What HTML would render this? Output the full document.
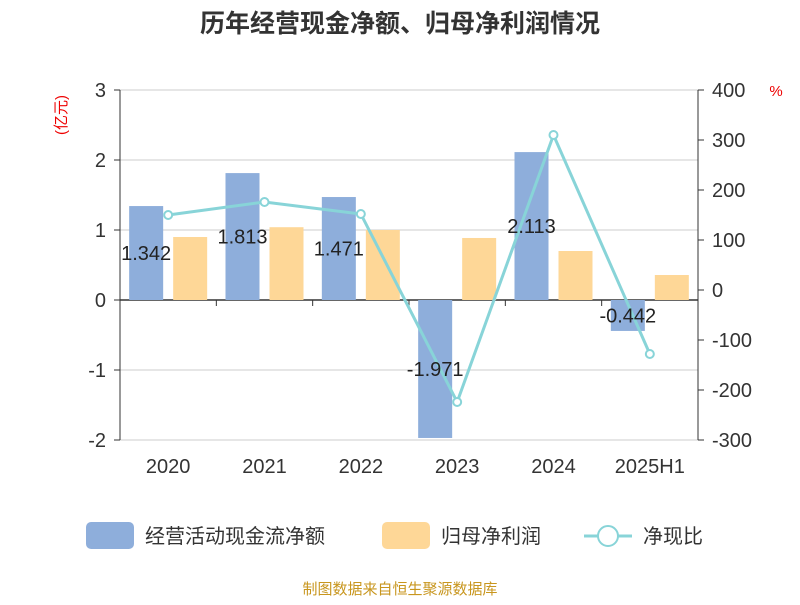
<!DOCTYPE html>
<html><head><meta charset="utf-8"><style>
body{margin:0;background:#fff;}
svg text{font-family:"Liberation Sans","Noto Sans CJK SC",sans-serif;}
</style></head><body>
<svg id="c" width="800" height="600" xmlns="http://www.w3.org/2000/svg">
<text x="400" y="32" text-anchor="middle" font-size="25" font-weight="bold" fill="#333">历年经营现金净额、归母净利润情况</text>
<text x="0" y="0" transform="translate(66,115) rotate(-90)" text-anchor="middle" font-size="15" fill="#e00">(亿元)</text>
<text x="776" y="96" text-anchor="middle" font-size="15" fill="#e00">%</text>
<g id="grid"></g><g id="bars"></g><g id="axes"></g><g id="line"></g><g id="labels"></g>
<g>
<rect x="86" y="522" width="48" height="27" rx="5" fill="#8eaedb"/>
<text x="145" y="543" font-size="20" fill="#333">经营活动现金流净额</text>
<rect x="382" y="522" width="48" height="27" rx="5" fill="#fed797"/>
<text x="441" y="543" font-size="20" fill="#333">归母净利润</text>
<line x1="584" y1="536" x2="632" y2="536" stroke="#88d4d8" stroke-width="3"/>
<circle cx="608" cy="536" r="10" fill="#fff" stroke="#88d4d8" stroke-width="2"/>
<text x="643" y="543" font-size="20" fill="#333">净现比</text>
</g>
<text x="400" y="594" text-anchor="middle" font-size="15" fill="#c8961e">制图数据来自恒生聚源数据库</text>
</svg>
<script>
const categories=["2020","2021","2022","2023","2024","2025H1"];
const cashFlow=[1.342,1.813,1.471,-1.971,2.113,-0.442];
const netProfit=[0.90,1.04,1.00,0.886,0.70,0.357];
const ratio=[150,176,152,-224,310,-128];
const leftTicks=[3,2,1,0,-1,-2];
const rightTicks=[400,300,200,100,0,-100,-200,-300];
const NS="http://www.w3.org/2000/svg";
const X0=120,X1=698,T=90,B=440;
const yL=v=>T+(3-v)*(B-T)/5;
const yR=v=>T+(400-v)*(B-T)/700;
const bw=(X1-X0)/categories.length;
const xc=i=>X0+bw*(i+0.5);
function mk(parent,tag,attrs){const e=document.createElementNS(NS,tag);for(const k in attrs)e.setAttribute(k,attrs[k]);document.getElementById(parent).appendChild(e);return e;}
leftTicks.forEach(t=>{
 const g=mk('grid','line',{x1:X0,x2:X1,y1:yL(t),y2:yL(t),stroke:t===0?'#333':'#ccc','stroke-width':t===0?1.5:1});
 
 
 const l=mk('axes','text',{x:X0-14,y:yL(t)+7,'text-anchor':'end','font-size':20,fill:'#333'});l.textContent=t;
 
 
 const tk=mk('axes','line',{x1:X0-6,x2:X0,y1:yL(t),y2:yL(t),stroke:'#333'});
 
 
});
rightTicks.forEach(t=>{
 const l=mk('axes','text',{x:X1+14,y:yR(t)+7,'font-size':20,fill:'#333'});l.textContent=t;
 
 
 const tk=mk('axes','line',{x1:X1,x2:X1+6,y1:yR(t),y2:yR(t),stroke:'#333'});
 
 
});
let a=mk('axes','line',{x1:X0,x2:X0,y1:T,y2:B,stroke:'#333'});


a=mk('axes','line',{x1:X1,x2:X1,y1:T,y2:B,stroke:'#333'});


categories.forEach((c,i)=>{
 const l=mk('axes','text',{x:xc(i),y:473,'text-anchor':'middle','font-size':20,fill:'#333'});l.textContent=c;
 
 
 if(i>0){const tk=mk('axes','line',{x1:X0+bw*i,x2:X0+bw*i,y1:yL(0),y2:yL(0)+6,stroke:'#333'});
 
 }
 const v=cashFlow[i];
 const r=mk('bars','rect',{x:xc(i)-39,width:34,y:Math.min(yL(v),yL(0)),height:Math.abs(yL(v)-yL(0)),fill:'#8eaedb'});
 
 
 const p=netProfit[i];
 const r2=mk('bars','rect',{x:xc(i)+5,width:34,y:Math.min(yL(p),yL(0)),height:Math.abs(yL(p)-yL(0)),fill:'#fed797'});
 
 
 const t=mk('labels','text',{x:xc(i)-22,y:yL(v/2)+7,'text-anchor':'middle','font-size':20,fill:'#222'});t.textContent=v;
 
 
});
const pl=mk('line','polyline',{points:ratio.map((v,i)=>xc(i)+','+yR(v)).join(' '),fill:'none',stroke:'#88d4d8','stroke-width':3});


ratio.forEach((v,i)=>{
 const c=mk('line','circle',{cx:xc(i),cy:yR(v),r:4,fill:'#fff',stroke:'#88d4d8','stroke-width':2});
 
 
});
</script>
</body></html>
